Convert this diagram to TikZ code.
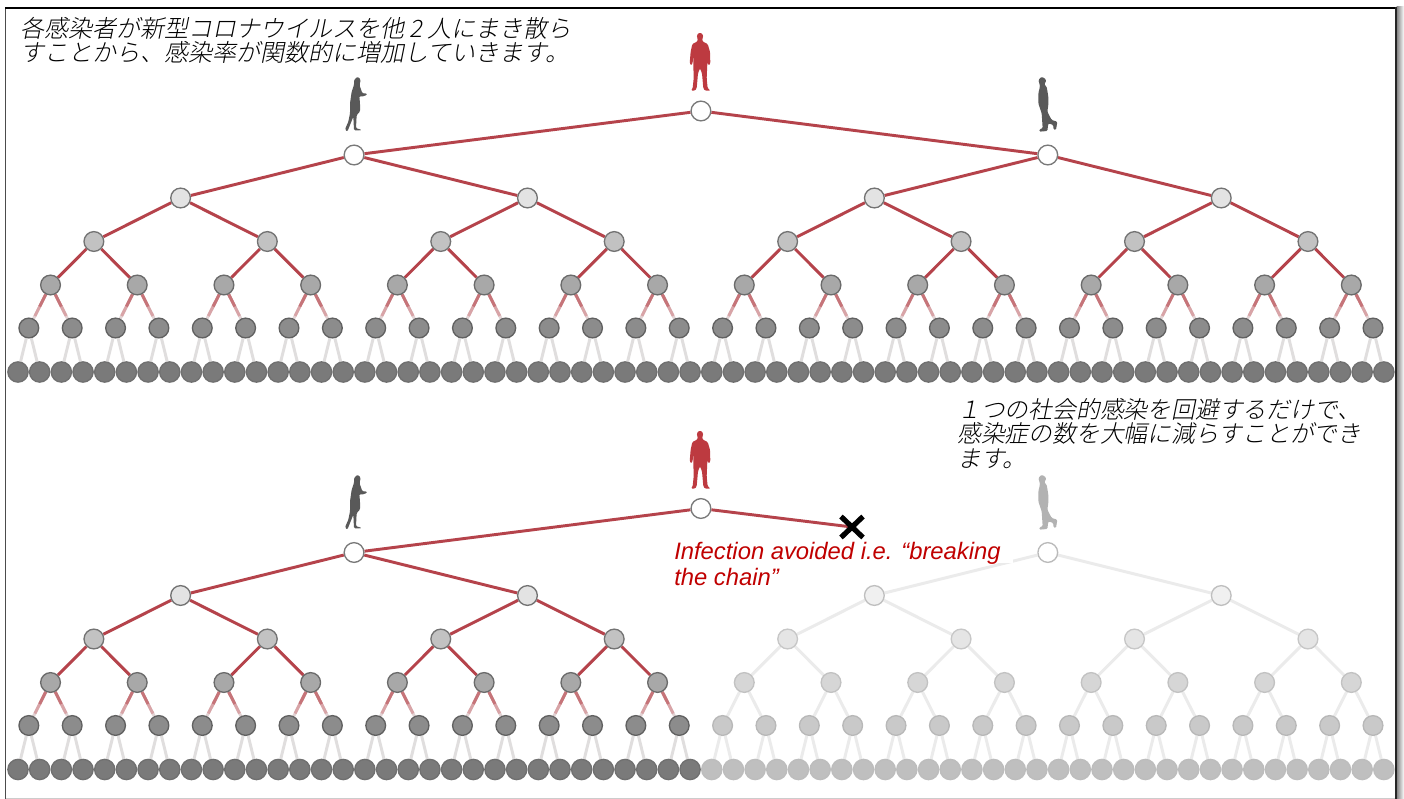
\documentclass[tikz,border=0pt]{standalone}
\usepackage{fontspec}
\setmainfont{Liberation Sans}
\newfontfamily\jp[FakeSlant=0.2]{Noto Sans CJK JP Light}
\usetikzlibrary{calc,backgrounds}
\definecolor{redline}{HTML}{B5434B}
\definecolor{redmid}{HTML}{C67479}
\definecolor{redpale}{HTML}{D8A4A7}
\definecolor{paleend}{HTML}{E2D2D3}
\definecolor{grayline}{HTML}{E0DEDE}
\definecolor{fadeline}{HTML}{EBEBEB}
\definecolor{manred}{HTML}{BD3A40}
\definecolor{labelred}{HTML}{C00000}
\tikzset{
  dot/.style={circle,inner sep=0pt,minimum size=14.8pt,line width=1pt},
  n0/.style={dot,fill=white,draw=gray!95!black},
  n1/.style={dot,fill=white,draw=gray!95!black},
  n2/.style={dot,fill=black!11,draw=black!55},
  n3/.style={dot,fill=black!24,draw=black!55},
  n4/.style={dot,fill=black!34,draw=black!58},
  n5/.style={dot,fill=black!45,draw=black!62},
  n6/.style={dot,fill=black!52,draw=black!56,minimum size=15.2pt},
  f0/.style={n0},
  f1/.style={dot,fill=white,draw=black!27},
  f2/.style={dot,fill=black!6,draw=black!25},
  f3/.style={dot,fill=black!10,draw=black!22},
  f4/.style={dot,fill=black!16,draw=black!24},
  f5/.style={dot,fill=black!21,draw=black!28},
  f6/.style={dot,fill=black!25,draw=black!26,minimum size=15.2pt},
  redge/.style={draw=redline,line width=2.2pt},
  gedge/.style={draw=grayline,line width=2.2pt},
  fedge/.style={draw=fadeline,line width=2.2pt},
  jptext/.style={align=left,inner sep=0pt,anchor=north west,font=\jp\fontsize{17.85}{18.3}\selectfont},
  jptextb/.style={jptext,font=\jp\fontsize{18}{18.3}\selectfont},
  redlabel/.style={align=left,inner sep=0pt,anchor=north west,text=labelred,font=\itshape\fontsize{17.85}{19.5}\selectfont},
  person/.style={rounded corners=.9pt},
}
\newcommand\RedMan{%
  (120,37) -- (130,45) -- (127,58) -- (127,64) -- (143,72) -- (150,95) -- (151,130) -- (147,137) -- (142,128) -- (140,100) -- (142,130) -- (140,175) -- (143,205) -- (152,212) -- (135,212) -- (130,205) -- (126,160) -- (120,145) -- (114,160) -- (110,205) -- (105,212) -- (93,212) -- (98,205) -- (101,175) -- (100,130) -- (100,100) -- (98,128) -- (94,137) -- (89,130) -- (92,95) -- (97,72) -- (113,64) -- (113,58) -- (110,45) -- cycle}
\newcommand\Woman{%
  (82,20) -- (92,28) -- (90,40) -- (88,45) -- (92,55) -- (97,70) -- (110,70) -- (111,75) -- (95,80) -- (88,78) -- (90,100) -- (90,125) -- (80,135) -- (78,175) -- (92,178) -- (92,181) -- (72,181) -- (70,140) -- (60,165) -- (52,185) -- (45,178) -- (55,155) -- (60,130) -- (60,100) -- (65,65) -- (72,45) -- (72,30) -- cycle}
\newcommand\Walker{%
  (65,20) -- (78,28) -- (77,38) -- (72,43) -- (80,50) -- (85,80) -- (85,105) -- (82,125) -- (95,150) -- (112,155) -- (108,180) -- (100,178) -- (100,165) -- (85,160) -- (82,183) -- (58,185) -- (58,178) -- (68,175) -- (65,130) -- (55,100) -- (55,70) -- (60,50) -- (58,40) -- (55,30) -- cycle}
% #1 prefix, #2 y offset, #3 1 = right half faded
\newcommand\DrawTree[3]{%
  \foreach \k/\yy in {0/111,1/155,2/198,3/241.5,4/285,5/328,6/372}{%
    \pgfmathtruncatemacro\cnt{2^\k-1}%
    \foreach \i in {0,...,\cnt}{%
      \pgfmathsetmacro\xx{18+21.68*((\i+0.5)*2^(6-\k)-0.5)}%
      \pgfmathtruncatemacro\isf{(#3==1 && \k>0 && \i>=2^(\k-1)) ? 1 : 0}%
      \ifnum\isf=1 \def\sty{f\k}\else \def\sty{n\k}\fi
      \node[\sty] (#1-\k-\i) at (\xx,\yy+#2) {};
    }%
  }%
  \begin{scope}[on background layer]
  \foreach \k in {1,...,6}{%
    \pgfmathtruncatemacro\cnt{2^\k-1}%
    \pgfmathtruncatemacro\pk{\k-1}%
    \foreach \i in {0,...,\cnt}{%
      \pgfmathtruncatemacro\pi{floor(\i/2)}%
      \pgfmathtruncatemacro\isf{(#3==1 && \i>=2^(\k-1)) ? 1 : 0}%
      \ifnum\isf=1
        \ifnum\k>1 \path[fedge] (#1-\pk-\pi) -- (#1-\k-\i);\fi
      \else
        \ifnum\k<5 \path[redge] (#1-\pk-\pi) -- (#1-\k-\i);\fi
        \ifnum\k=5
          \path[redge,draw=paleend] (#1-\pk-\pi) -- (#1-\k-\i);
          \path[redge,draw=redpale] (#1-\pk-\pi) -- ($(#1-\pk-\pi)!.72!(#1-\k-\i)$);
          \path[redge,draw=redmid] (#1-\pk-\pi) -- ($(#1-\pk-\pi)!.5!(#1-\k-\i)$);
        \fi
        \ifnum\k=6 \path[gedge] (#1-\pk-\pi) -- (#1-\k-\i);\fi
      \fi
    }%
  }%
  \end{scope}
}
\begin{document}
\begin{tikzpicture}[x=.75pt,y=-.75pt]
\useasboundingbox (0,0) rectangle (1404,799);
\begin{scope}[on background layer]
  \fill[white] (0,0) rectangle (1404,799);
  \shade[left color=black!50,right color=white,shading angle=90] (1396.5,7) rectangle (1404,799);
  \fill[black!20] (5,797.5) rectangle (1396,798.5);
  \fill[black!70] (4.5,7.5) rectangle (6,799);
  \fill[black] (4.5,7.5) rectangle (1396.5,9);
  \fill[black!85] (1395,7.5) rectangle (1396.5,799);
\end{scope}

\DrawTree{a}{0}{0}
\DrawTree{b}{397.5}{1}

\coordinate (xmark) at (852,527);
\begin{scope}[on background layer]
  \path[redge] (b-0-0) -- (xmark);
\end{scope}
\draw[line width=3.9pt,black] ($(xmark)+(-11,-10.5)$) -- ($(xmark)+(11,10.5)$);
\draw[line width=3.9pt,black] ($(xmark)+(11,-10.5)$) -- ($(xmark)+(-11,10.5)$);

\fill[white] (672,541) rectangle (1013,563);

% people
\begin{scope}[shift={(660,20)},x=.25pt,y=-.25pt]
  \fill[manred,person] \RedMan;
\end{scope}
\begin{scope}[shift={(660,418)},x=.25pt,y=-.25pt]
  \fill[manred,person] \RedMan;
\end{scope}
\begin{scope}[shift={(330,70)},x=.25pt,y=-.25pt]
  \fill[black!65,person] \Woman;
\end{scope}
\begin{scope}[shift={(330,468)},x=.25pt,y=-.25pt]
  \fill[black!65,person] \Woman;
\end{scope}
\begin{scope}[shift={(1020,70)},x=.25pt,y=-.25pt]
  \fill[black!65,person] \Walker;
\end{scope}
\begin{scope}[shift={(1020,468)},x=.25pt,y=-.25pt]
  \fill[black!30,person] \Walker;
\end{scope}

\node[jptextb] (t1) at (20,17) {各感染者が新型コロナウイルスを他 2 人にまき散ら\\すことから、感染率が関数的に増加していきます。};
\node[jptext] (t2) at (957,398) {１つの社会的感染を回避するだけで、\\感染症の数を大幅に減らすことができ\\ます。};
\node[redlabel] (t3) at (674,541.5) {Infection avoided i.e. “breaking\\the chain”};
\end{tikzpicture}
\end{document}
